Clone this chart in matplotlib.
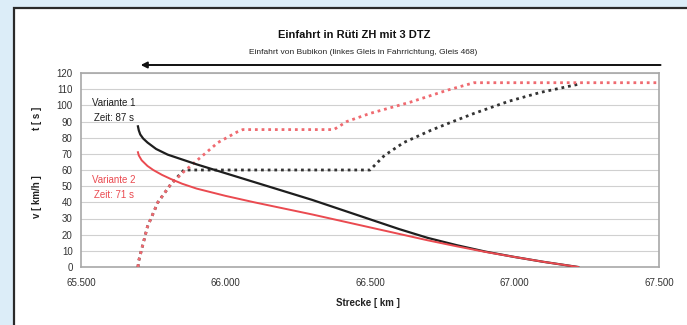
import matplotlib.pyplot as plt
import matplotlib.patches as mpatches
import numpy as np

plt.rcParams['font.family'] = ['Liberation Sans', 'DejaVu Sans']

# Geschwindigkeit v [km/h] ueber Strecke [km]
v1_km = [65.697, 65.70, 65.705, 65.715, 65.73, 65.76, 65.80, 65.85, 65.90, 66.00, 66.10, 66.20, 66.30,
         66.40, 66.50, 66.60, 66.70, 66.80, 66.90, 67.00, 67.10, 67.22]
v1_val = [87, 84.5, 82, 79.5, 77, 73, 69.5, 66.5, 63.5, 58, 52.5, 47, 41.5,
          35.5, 29.5, 23.5, 18, 13.5, 9.5, 6.2, 3.2, 0]
v2_km = [65.697, 65.70, 65.71, 65.73, 65.75, 65.78, 65.81, 65.85, 65.90, 66.00, 66.10, 66.18, 66.30,
         66.40, 66.50, 66.60, 66.70, 66.80, 66.90, 67.00, 67.10, 67.22]
v2_val = [71, 69, 66, 62.5, 60, 57, 54.5, 51.5, 48.5, 44, 40, 37, 32.5,
          28.5, 24.5, 20.5, 16.5, 12.8, 9.3, 6.2, 3.2, 0]

# Zeit t [s] ueber Strecke [km]
t1_km = [65.697, 65.70, 65.73, 65.766, 65.81, 65.856, 66.50, 66.55, 66.617, 66.71, 66.78, 66.86, 66.98, 67.09, 67.22]
t1_val = [0, 4, 25, 40, 51, 60, 60, 69, 77, 84.5, 89.5, 95, 102.5, 108, 113]
t2_km = [65.697, 65.70, 65.73, 65.766, 65.81, 65.856, 65.915, 65.974, 66.04, 66.06, 66.375, 66.42, 66.50,
         66.64, 66.77, 66.86, 67.50]
t2_val = [0, 4, 25, 40, 51, 59, 68, 77, 83.5, 85, 85, 90, 95, 102, 109.5, 114, 114]

x_ticks = [65.5, 66.0, 66.5, 67.0, 67.5]
x_labels = ['65.500', '66.000', '66.500', '67.000', '67.500']
y_ticks = list(range(0, 121, 10))

black = '#1e1e1e'
red = '#ea4a50'
red_dot = '#ef6a70'

fig = plt.figure(figsize=(6.87, 3.25), dpi=100)
fig.patch.set_facecolor('#dcedf8')

# weisses Panel mit Rahmen
panel = mpatches.Rectangle((14 / 687, -0.05), 1.1, 1 - 8 / 325 + 0.05,
                           transform=fig.transFigure, facecolor='white',
                           edgecolor='#2a2a2a', linewidth=1.6, zorder=-5)
fig.patches.append(panel)

ax = fig.add_axes([81 / 687, 58 / 325, 578 / 687, 194 / 325])
ax.set_zorder(2)
ax.set_facecolor('white')

ax.plot(t1_km, t1_val, color='#333333', linestyle=(0, (1, 1.4)), linewidth=2.0, zorder=3)
ax.plot(t2_km, t2_val, color=red_dot, linestyle=(0, (1, 1.4)), linewidth=2.0, zorder=4)
ax.plot(v1_km, v1_val, color=black, linewidth=1.6, zorder=5)
ax.plot(v2_km, v2_val, color=red, linewidth=1.4, zorder=5)

ax.set_xlim(65.5, 67.5)
ax.set_ylim(0, 120)
ax.set_xticks(x_ticks)
ax.set_xticklabels(x_labels)
ax.set_yticks(y_ticks)
ax.tick_params(axis='both', length=0, labelsize=7, colors='#333333')
ax.tick_params(axis='x', pad=8)
ax.tick_params(axis='y', pad=6)
ax.grid(axis='y', color='#d0d0d0', linewidth=0.8)
ax.set_axisbelow(True)
for s in ax.spines.values():
    s.set_color('#a8a8a8')
    s.set_linewidth(1.2)

ax.text(65.615, 101.5, 'Variante 1', fontsize=7, color=black, ha='center', va='center')
ax.text(65.615, 92, 'Zeit: 87 s', fontsize=7, color=black, ha='center', va='center')
ax.text(65.615, 54, 'Variante 2', fontsize=7, color=red, ha='center', va='center')
ax.text(65.615, 44.5, 'Zeit: 71 s', fontsize=7, color=red, ha='center', va='center')

fig.text(354 / 687, 1 - 35 / 325, 'Einfahrt in Rüti ZH mit 3 DTZ', fontsize=8,
         fontweight='bold', ha='center', va='center', color='#111111')
fig.text(363 / 687, 1 - 53 / 325,
         'Einfahrt von Bubikon (linkes Gleis in Fahrrichtung, Gleis 468)',
         fontsize=6, ha='center', va='center', color='#222222')
fig.text(368 / 687, 1 - 303 / 325, 'Strecke [ km ]', fontsize=7,
         fontweight='bold', ha='center', va='center', color='#222222')
fig.text(37 / 687, 1 - 118 / 325, 't [ s ]', fontsize=7, fontweight='bold',
         rotation=90, ha='center', va='center', color='#222222')
fig.text(37 / 687, 1 - 197 / 325, 'v [ km/h ]', fontsize=7, fontweight='bold',
         rotation=90, ha='center', va='center', color='#222222')

# Fahrtrichtungspfeil
ax.annotate('', xy=(65.697, 1 - 65 / 325), xycoords=('data', 'figure fraction'),
            xytext=(67.515, 1 - 65 / 325), textcoords=('data', 'figure fraction'),
            arrowprops=dict(arrowstyle='-|>', color='#111111', lw=1.4,
                            mutation_scale=9), annotation_clip=False)

fig.savefig('out.png', dpi=100, facecolor=fig.get_facecolor())
